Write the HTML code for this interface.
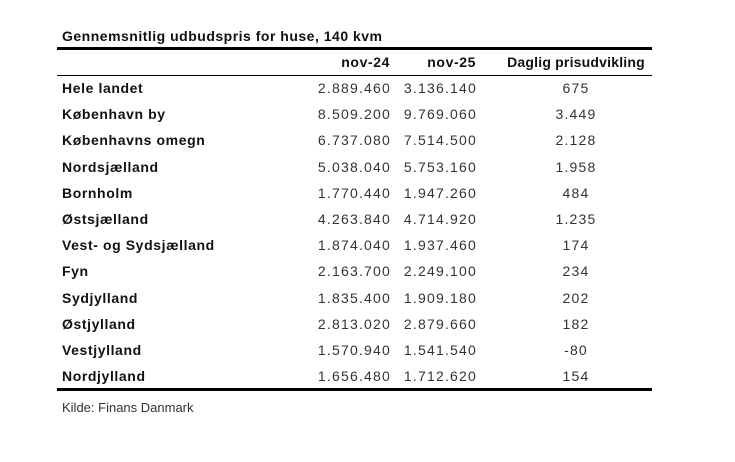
<!DOCTYPE html>
<html><head><meta charset="utf-8"><style>
body{margin:0;width:735px;height:462px;background:#fff;position:relative;font-family:"Liberation Sans",sans-serif;color:#111;overflow:hidden}
.t{position:absolute;white-space:nowrap;font-size:14px;line-height:16px}
.b{font-weight:bold;letter-spacing:0.6px}
.r{text-align:right;width:100px}
.c{text-align:center;width:160px}
.n{letter-spacing:1.2px;color:#333}
.line{position:absolute;left:57px;width:595px;background:#000}
</style></head><body>
<div class="t b" style="left:62px;top:28px;letter-spacing:0.5px">Gennemsnitlig udbudspris for huse, 140 kvm</div>
<div class="line" style="top:47px;height:3px"></div>
<div class="t b r" style="left:290px;top:54px">nov-24</div>
<div class="t b r" style="left:376px;top:54px">nov-25</div>
<div class="t b c" style="left:496px;top:54px;letter-spacing:0.2px">Daglig prisudvikling</div>
<div class="line" style="top:75px;height:1px"></div>
<div id="rows"></div>
<div class="line" style="top:388px;height:3px"></div>
<div class="t" style="left:62px;top:400px;font-size:13px;color:#333">Kilde: Finans Danmark</div>
<script>
var d=[["Hele landet","2.889.460","3.136.140","675"],["København by","8.509.200","9.769.060","3.449"],["Københavns omegn","6.737.080","7.514.500","2.128"],["Nordsjælland","5.038.040","5.753.160","1.958"],["Bornholm","1.770.440","1.947.260","484"],["Østsjælland","4.263.840","4.714.920","1.235"],["Vest- og Sydsjælland","1.874.040","1.937.460","174"],["Fyn","2.163.700","2.249.100","234"],["Sydjylland","1.835.400","1.909.180","202"],["Østjylland","2.813.020","2.879.660","182"],["Vestjylland","1.570.940","1.541.540","-80"],["Nordjylland","1.656.480","1.712.620","154"]];
var h="";d.forEach(function(r,i){var y=80+i*26.2;
h+='<div class="t b" style="left:62px;top:'+y+'px">'+r[0]+'</div>';
h+='<div class="t r n" style="left:291px;top:'+y+'px">'+r[1]+'</div>';
h+='<div class="t r n" style="left:377px;top:'+y+'px">'+r[2]+'</div>';
h+='<div class="t c n" style="left:496px;top:'+y+'px">'+r[3]+'</div>';});
document.getElementById("rows").innerHTML=h;
</script>
</body></html>
